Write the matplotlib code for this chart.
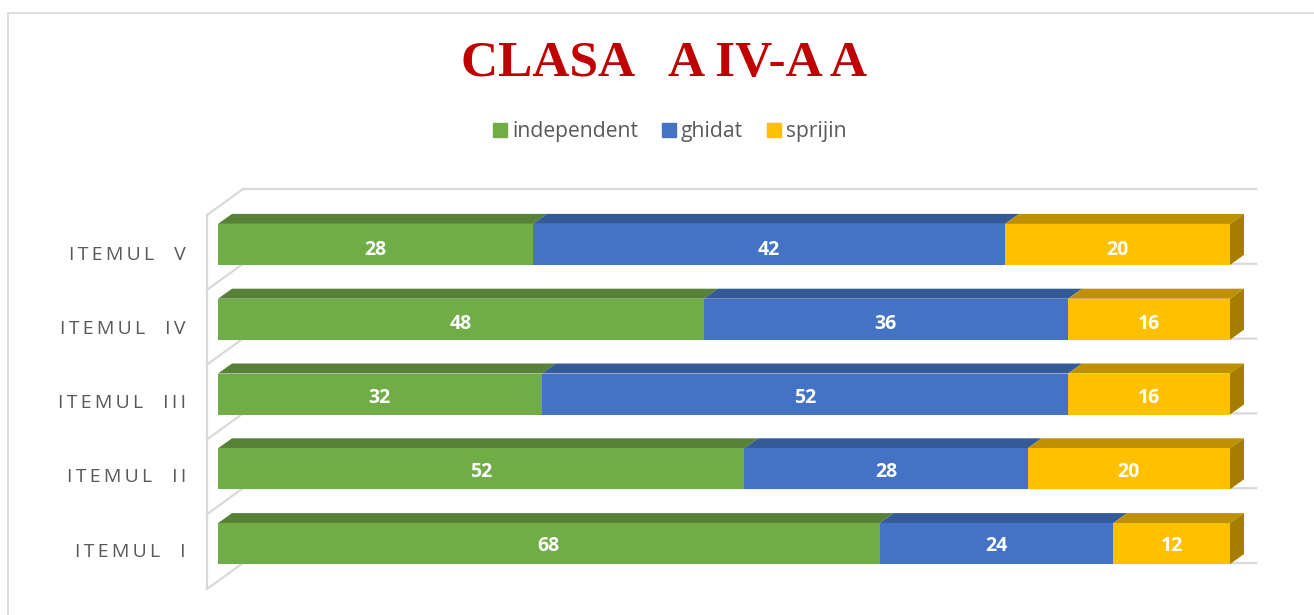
import matplotlib
matplotlib.use('Agg')
import matplotlib.pyplot as plt
from matplotlib.lines import Line2D
from matplotlib.patches import Patch

items = ['ITEMUL  I', 'ITEMUL  II', 'ITEMUL  III', 'ITEMUL  IV', 'ITEMUL  V']
independent = [68, 52, 32, 48, 28]
ghidat = [24, 28, 52, 36, 42]
sprijin = [12, 20, 16, 16, 20]
series_names = ['independent', 'ghidat', 'sprijin']
title = 'CLASA   A IV-A A'

front = ['#70AD47', '#4472C4', '#FFC000']
top = ['#568136', '#355A9A', '#BF9000']
side_col = '#A67D00'
wall = '#D9D9D9'

W, H = 1314, 615
# axes box in pixels, 0-100% runs 218..1230
L, R, T, B = 218, 1230, 207, 581
px_x = 100 / (R - L)
px_y = 5 / (B - T)
dx = 14 * px_x
dy = 10 * px_y


def spaced(s, sep='\u2009'):
    return sep.join(s)


fig = plt.figure(figsize=(W / 100, H / 100), dpi=100)
ax = fig.add_axes([L / W, 1 - B / H, (R - L) / W, (B - T) / H])
ax.set_xlim(0, 100)
ax.set_ylim(-0.5, 4.5)
ax.axis('off')

# chart border, only left and top show
for xs, ys in [([8, 8], [13, 615]), ([8, 1314], [13, 13])]:
    fig.add_artist(Line2D([x / W for x in xs], [1 - y / H for y in ys], color=wall, lw=1.2))

# walls, back at 243..1256, front at x=207
xf = (207 - L) * px_x
xb = (243 - L) * px_x
xe = (1256 - L) * px_x
for i in range(6):
    yb = i - 0.5 + 18 * px_y
    yf = i - 0.5 - 8 * px_y
    ax.plot([xf, xb, xe], [yf, yb, yb], color=wall, lw=1.6, clip_on=False, zorder=1,
            solid_joinstyle='miter')
ax.plot([xf, xf], [-0.5 - 8 * px_y, 4.5 - 8 * px_y], color=wall, lw=1.6, clip_on=False, zorder=1)

# percent stacked bars with a fake 3D top and end
h = 41 * px_y
ypos = list(range(len(items)))
for i in ypos:
    total = independent[i] + ghidat[i] + sprijin[i]
    left = 0
    for k, vals in enumerate([independent, ghidat, sprijin]):
        w = vals[i] / total * 100
        ax.fill([left, left + dx, left + w + dx, left + w],
                [i + h / 2, i + h / 2 + dy, i + h / 2 + dy, i + h / 2],
                color=top[k], lw=0, clip_on=False, zorder=3 + k)
        ax.barh(i, w, height=h, left=left, color=front[k], lw=0, zorder=7)
        # labels sit a bit lower the higher the row
        ax.text(left + w / 2, i - (2 + i) * px_y, str(vals[i]), color='white', fontsize=14,
                fontweight='bold', family='Open Sans', ha='center', va='center', zorder=8)
        left += w
    ax.fill([100, 100 + dx, 100 + dx, 100],
            [i - h / 2, i - h / 2 + dy, i + h / 2 + dy, i + h / 2],
            color=side_col, lw=0, clip_on=False, zorder=6)
    ax.text((186 - L) * px_x, i - (8 + 0.6 * i) * px_y, spaced(items[i]), color='#595959', fontsize=14,
            family='Open Sans', ha='right', va='center')

fig.text(664 / W, 1 - 64 / H, title, color='#C00000', fontsize=37, fontweight='bold',
         family='Liberation Serif', ha='center', va='center')

handles = [Patch(color=c) for c in front]
fig.legend(handles, series_names, loc='center', bbox_to_anchor=(670 / W, 1 - 132 / H), ncols=3,
           frameon=False, labelcolor='#595959', prop={'family': 'Open Sans', 'size': 15.2},
           handlelength=0.64, handleheight=0.64, handletextpad=0.24, columnspacing=1.15)

fig.savefig('out.png', dpi=100)
